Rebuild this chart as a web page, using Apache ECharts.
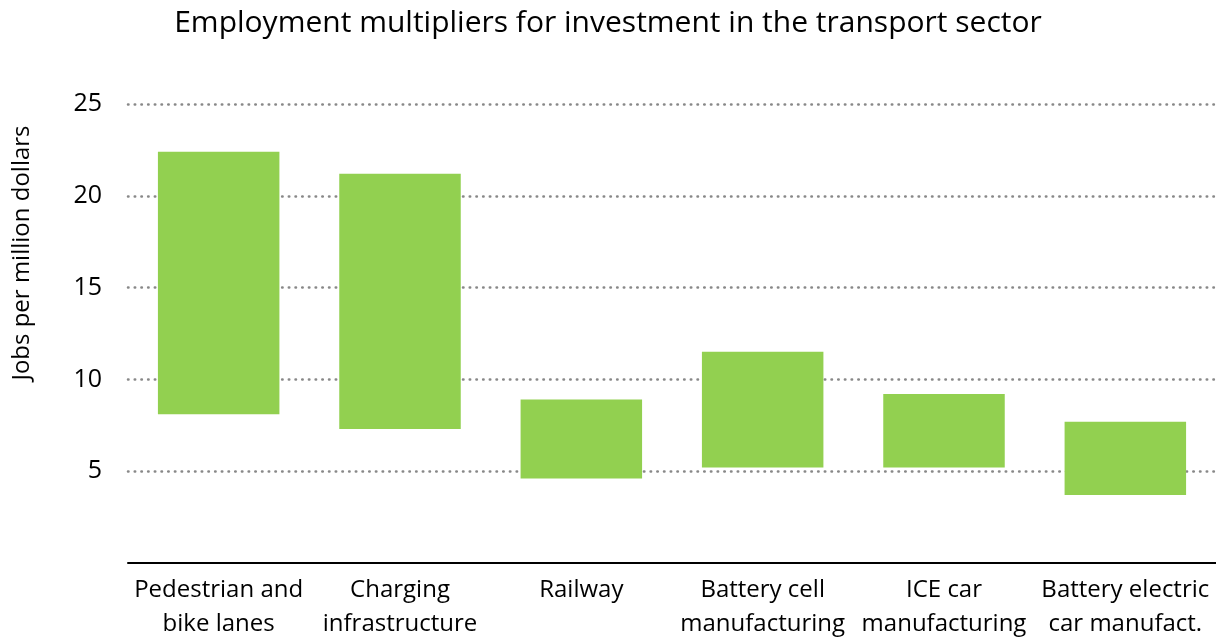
<!DOCTYPE html>
<html><head><meta charset="utf-8">
<script src="https://cdn.jsdelivr.net/npm/echarts@6/dist/echarts.min.js"></script>
<style>html,body{margin:0;padding:0;background:#fff}#c{width:1216px;height:639px}</style>
</head><body><div id="c"></div>
<script>
const categories = ['Pedestrian and\nbike lanes', 'Charging\ninfrastructure', 'Railway', 'Battery cell\nmanufacturing', 'ICE car\nmanufacturing', 'Battery electric\ncar manufact.'];
const lowValues = [8.1, 7.3, 4.6, 5.2, 5.2, 3.7];
const highValues = [22.4, 21.2, 8.9, 11.5, 9.2, 7.7];
const yTicks = [5, 10, 15, 20, 25];

const FONT = "'Open Sans', sans-serif";
const chart = echarts.init(document.getElementById('c'));
chart.setOption({
  animation: false,
  title: {
    text: 'Employment multipliers for investment in the transport sector',
    left: 'center', top: 3,
    textStyle: { fontFamily: FONT, fontSize: 30, fontWeight: 'normal', color: '#000' }
  },
  graphic: [{
    type: 'text', x: 22, y: 253, rotation: Math.PI / 2,
    style: { text: 'Jobs per million dollars', fontFamily: FONT, fontSize: 24, fill: '#000', textAlign: 'center', textVerticalAlign: 'middle' }
  }],
  grid: { left: 128, right: 0, top: 104, bottom: 76, outerBoundsMode: 'none' },
  xAxis: {
    type: 'category', data: categories, z: 5,
    axisLine: { lineStyle: { color: '#000', width: 2 } },
    axisTick: { show: false },
    axisLabel: { fontFamily: FONT, fontSize: 24, color: '#000', lineHeight: 34, margin: 10, interval: 0 }
  },
  yAxis: {
    type: 'value', min: 0, max: 25, interval: 5,
    axisLine: { show: false }, axisTick: { show: false },
    axisLabel: {
      fontFamily: FONT, fontSize: 25, color: '#000', margin: 26,
      formatter: v => (yTicks.includes(v) ? String(v) : '')
    },
    splitLine: {
      show: true, showMinLine: false,
      lineStyle: { color: '#888888', width: 2.5, type: [0.5, 6.2], cap: 'round' }
    }
  },
  series: [
    { type: 'bar', stack: 'r', data: lowValues, itemStyle: { color: 'transparent' }, barWidth: '67%', silent: true },
    { type: 'bar', stack: 'r', data: highValues.map((h, i) => +(h - lowValues[i]).toFixed(2)), itemStyle: { color: '#92D050' }, barWidth: '67%' }
  ]
});
</script></body></html>
